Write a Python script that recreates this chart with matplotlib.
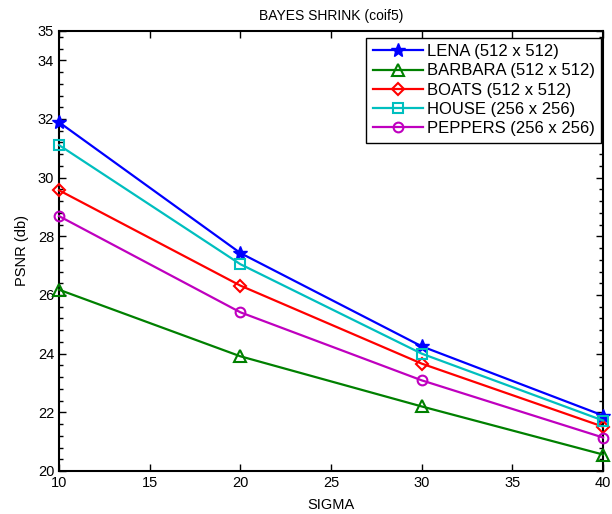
import matplotlib
matplotlib.use('Agg')
import matplotlib.pyplot as plt
from matplotlib.ticker import MultipleLocator
import numpy as np

plt.rcParams['font.family'] = ['Liberation Sans', 'DejaVu Sans']

sigma = [10, 20, 30, 40]
lena = [31.89, 27.43, 24.25, 21.89]
barbara = [26.18, 23.91, 22.20, 20.56]
boats = [29.57, 26.32, 23.66, 21.51]
house = [31.11, 27.05, 24.00, 21.72]
peppers = [28.69, 25.41, 23.09, 21.14]

labels = ['LENA (512 x 512)', 'BARBARA (512 x 512)', 'BOATS (512 x 512)',
          'HOUSE (256 x 256)', 'PEPPERS (256 x 256)']
series = [lena, barbara, boats, house, peppers]
colors = ['#0000ff', '#008000', '#ff0000', '#00bfbf', '#bf00bf']
markers = ['*', '^', 'D', 's', 'o']
msizes = [10, 8, 6, 7, 7]

fig = plt.figure(figsize=(6.12, 5.14), dpi=100)
ax = fig.add_axes([0.0964, 0.0837, 0.889, 0.856])

for y, lab, c, m, ms in zip(series, labels, colors, markers, msizes):
    if m == '*':
        ax.plot(sigma, y, color=c, marker=m, ms=ms, lw=1.6, label=lab,
                clip_on=False, zorder=3)
    else:
        ax.plot(sigma, y, color=c, marker=m, ms=ms, lw=1.6, mfc='none',
                mew=1.5, label=lab, clip_on=False, zorder=3)

ax.set_xlim(10, 40)
ax.set_ylim(20, 35)
ax.set_xticks([10, 15, 20, 25, 30, 35, 40])
ax.set_yticks([20, 22, 24, 26, 28, 30, 32, 34, 35])
ax.yaxis.set_minor_locator(MultipleLocator(0.4))
ax.tick_params(which='both', direction='in', top=True, right=True,
               labelsize=10.5, width=1)
ax.tick_params(which='major', length=5)
ax.tick_params(which='minor', length=3)
for s in ax.spines.values():
    s.set_linewidth(1.5)

ax.set_title('BAYES SHRINK (coif5)', fontsize=10, pad=8)
ax.set_xlabel('SIGMA', fontsize=10.5, labelpad=6)
ax.set_ylabel('PSNR (db)', fontsize=10.5, labelpad=6)

leg = ax.legend(loc='upper right', bbox_to_anchor=(0.997, 0.985),
                borderaxespad=0, fontsize=12, fancybox=False,
                framealpha=1, edgecolor='black', handlelength=3.0,
                handletextpad=0.25, labelspacing=0.25, borderpad=0.4)
leg.get_frame().set_linewidth(1.0)
leg.set_zorder(5)

fig.savefig('out.png', dpi=100)
